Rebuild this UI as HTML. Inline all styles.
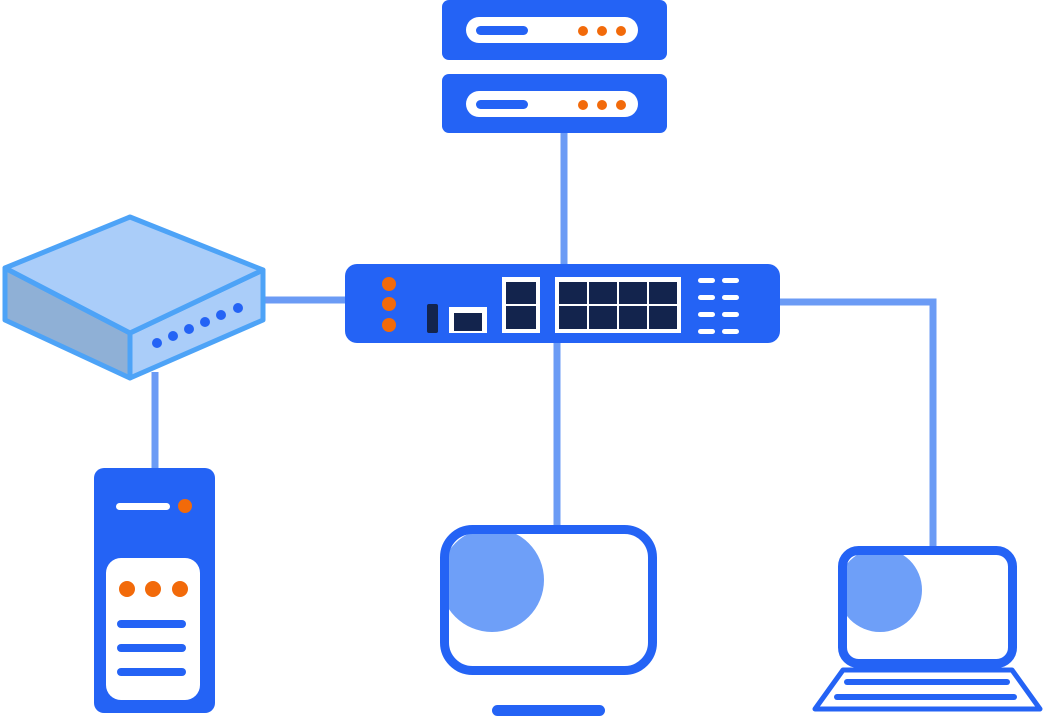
<!DOCTYPE html>
<html><head><style>html,body{margin:0;padding:0;background:#fff}svg{display:block}</style></head>
<body>
<svg width="1046" height="719" viewBox="0 0 1046 719" xmlns="http://www.w3.org/2000/svg">
<defs>
<clipPath id="mc"><rect x="445" y="530" width="207" height="140" rx="28"/></clipPath>
<clipPath id="lc"><rect x="843" y="551" width="169" height="112" rx="18"/></clipPath>
</defs>
<g stroke="#6b9bf5" stroke-width="7" fill="none">
<line x1="564" y1="130" x2="564" y2="266"/>
<line x1="260" y1="300" x2="347" y2="300"/>
<polyline points="778,302 933,302 933,550"/>
<line x1="557" y1="340" x2="557" y2="528"/>
<line x1="155" y1="372" x2="155" y2="470"/>
</g>
<!-- servers -->
<g>
<rect x="442" y="0" width="225" height="60" rx="7" fill="#2463f5"/>
<rect x="466" y="17" width="172" height="26" rx="13" fill="#fff"/>
<rect x="476" y="26" width="52" height="9" rx="4.5" fill="#2463f5"/>
<circle cx="583" cy="31" r="5" fill="#f26a0a"/><circle cx="602" cy="31" r="5" fill="#f26a0a"/><circle cx="621" cy="31" r="5" fill="#f26a0a"/>
<rect x="442" y="74" width="225" height="59" rx="7" fill="#2463f5"/>
<rect x="466" y="91" width="172" height="26" rx="13" fill="#fff"/>
<rect x="476" y="100" width="52" height="9" rx="4.5" fill="#2463f5"/>
<circle cx="583" cy="105" r="5" fill="#f26a0a"/><circle cx="602" cy="105" r="5" fill="#f26a0a"/><circle cx="621" cy="105" r="5" fill="#f26a0a"/>
</g>
<!-- switch -->
<g>
<rect x="345" y="264" width="435" height="79" rx="12" fill="#2463f5"/>
<circle cx="389" cy="284" r="7" fill="#f26a0a"/><circle cx="389" cy="304" r="7" fill="#f26a0a"/><circle cx="389" cy="325" r="7" fill="#f26a0a"/>
<rect x="427" y="304" width="11" height="29" rx="2" fill="#13244d"/>
<rect x="449" y="307" width="38" height="26" fill="#fff"/>
<rect x="454" y="313" width="28" height="18" fill="#13244d"/>
<rect x="502" y="277" width="38" height="56" fill="#fff"/>
<rect x="506" y="282" width="30" height="22" fill="#13244d"/><rect x="506" y="306" width="30" height="23" fill="#13244d"/>
<rect x="555" y="277" width="126" height="56" fill="#fff"/>
<g fill="#13244d">
<rect x="559" y="282" width="28" height="22"/><rect x="589" y="282" width="28" height="22"/><rect x="619" y="282" width="28" height="22"/><rect x="649" y="282" width="28" height="22"/>
<rect x="559" y="306" width="28" height="23"/><rect x="589" y="306" width="28" height="23"/><rect x="619" y="306" width="28" height="23"/><rect x="649" y="306" width="28" height="23"/>
</g>
<g fill="#fff">
<rect x="698" y="278" width="17" height="5" rx="2.5"/><rect x="722" y="278" width="17" height="5" rx="2.5"/>
<rect x="698" y="295" width="17" height="5" rx="2.5"/><rect x="722" y="295" width="17" height="5" rx="2.5"/>
<rect x="698" y="312" width="17" height="5" rx="2.5"/><rect x="722" y="312" width="17" height="5" rx="2.5"/>
<rect x="698" y="329" width="17" height="5" rx="2.5"/><rect x="722" y="329" width="17" height="5" rx="2.5"/>
</g>
</g>
<!-- router -->
<g stroke="#4da3f7" stroke-width="5" stroke-linejoin="round">
<polygon points="5,268 130,333 130,378 5,320" fill="#8fb0d6"/>
<polygon points="130,333 263,270 263,320 130,378" fill="#aacdf9"/>
<polygon points="5,268 130,217 263,270 130,333" fill="#aacdf9"/>
</g>
<g fill="#2463f5">
<circle cx="157" cy="343" r="5"/><circle cx="173" cy="336" r="5"/><circle cx="189" cy="329" r="5"/><circle cx="205" cy="322" r="5"/><circle cx="221" cy="315" r="5"/><circle cx="238" cy="308" r="5"/>
</g>
<!-- tower -->
<g>
<rect x="94" y="468" width="121" height="245" rx="10" fill="#2463f5"/>
<rect x="116" y="503" width="54" height="7" rx="3.5" fill="#fff"/>
<circle cx="185" cy="506" r="7" fill="#f26a0a"/>
<rect x="106" y="558" width="94" height="142" rx="15" fill="#fff"/>
<circle cx="127" cy="589" r="8" fill="#f26a0a"/><circle cx="153" cy="589" r="8" fill="#f26a0a"/><circle cx="180" cy="589" r="8" fill="#f26a0a"/>
<rect x="117" y="620" width="69" height="8" rx="4" fill="#2463f5"/>
<rect x="117" y="644" width="69" height="8" rx="4" fill="#2463f5"/>
<rect x="117" y="668" width="69" height="8" rx="4" fill="#2463f5"/>
</g>
<!-- monitor -->
<g>
<circle cx="492" cy="580" r="52" fill="#6e9ff8" clip-path="url(#mc)"/>
<rect x="444.5" y="529.5" width="208" height="141" rx="28" fill="none" stroke="#2463f5" stroke-width="9"/>
<rect x="492" y="705" width="113" height="11" rx="5.5" fill="#2463f5"/>
</g>
<!-- laptop -->
<g>
<circle cx="880" cy="590" r="42" fill="#6e9ff8" clip-path="url(#lc)"/>
<rect x="842.5" y="550.5" width="170" height="113" rx="16" fill="none" stroke="#2463f5" stroke-width="9"/>
<polygon points="843,670 1012,670 1040,709 815,709" fill="none" stroke="#2463f5" stroke-width="5" stroke-linejoin="round"/>
<rect x="844" y="679" width="166" height="6" rx="3" fill="#2463f5"/>
<rect x="834" y="694" width="183" height="6" rx="3" fill="#2463f5"/>
</g>
</svg>
</body></html>
